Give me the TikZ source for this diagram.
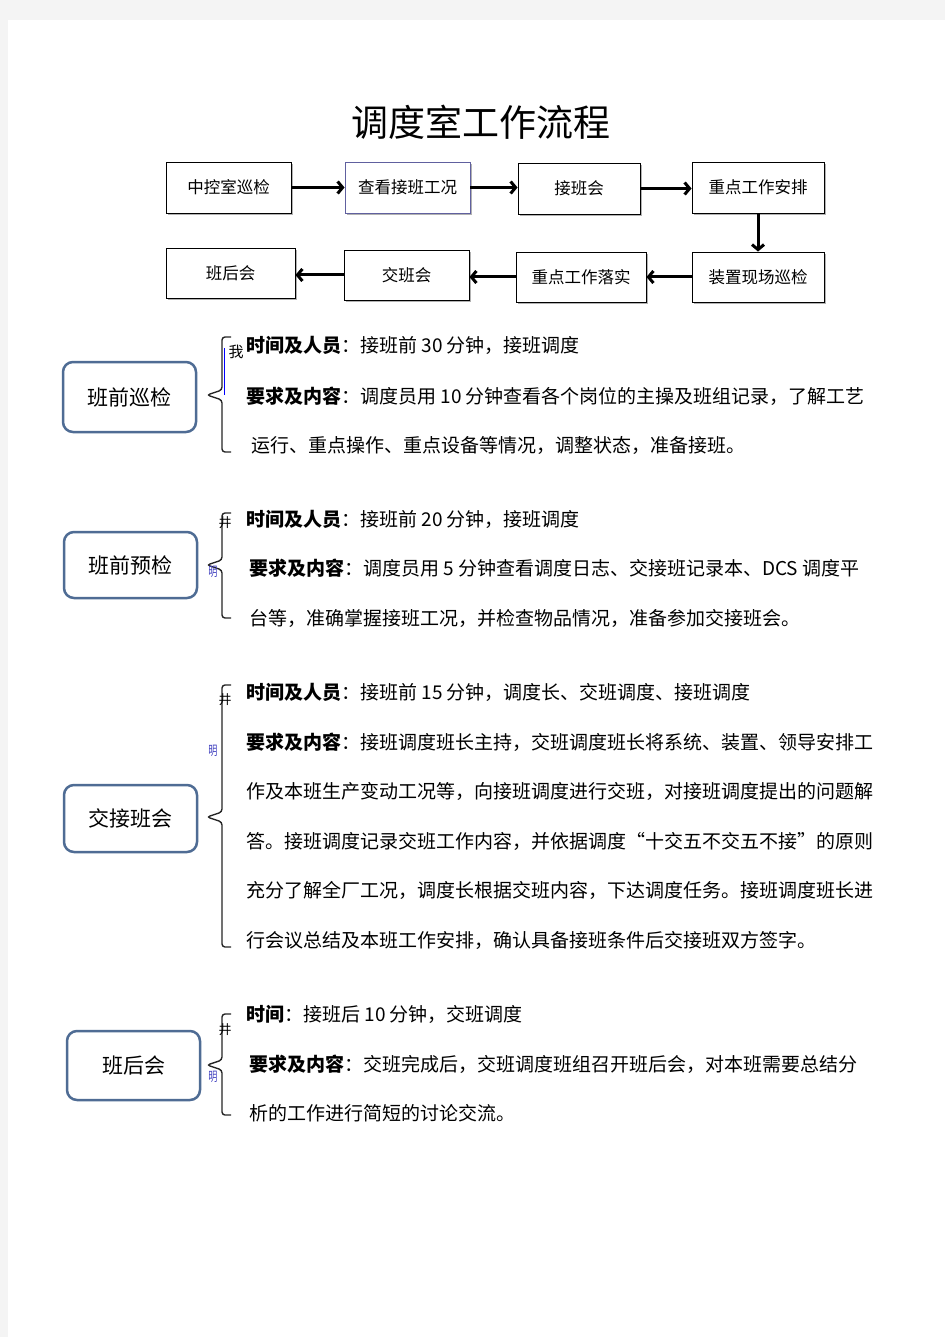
\documentclass[tikz,border=0pt]{standalone}
\usepackage{fontspec}
\setmainfont{Noto Sans CJK SC}
\usepackage{xcolor}
\usetikzlibrary{arrows.meta, shadows}

\definecolor{boxblue}{HTML}{4F6C94}
\definecolor{pagegray}{HTML}{F4F4F4}

\tikzset{
  flowbox/.style={draw, fill=white, line width=0.9pt, minimum width=125, minimum height=51, inner sep=0,
    font=\fontsize{16.5}{18}\selectfont,
    drop shadow={shadow xshift=2pt, shadow yshift=-2pt, fill=black!30, opacity=1}},
  flowarrow/.style={line width=3pt, -{Straight Barb[length=5pt, width=12pt]}},
  headbox/.style={draw=boxblue, line width=2.5pt, rounded corners=10, minimum width=133, minimum height=68,
    inner sep=0, font=\fontsize{21}{24}\selectfont},
  brc/.style={line width=1.4pt, black!85, rounded corners=3},
  txt/.style={anchor=west, inner sep=0, font=\fontsize{19}{21}\selectfont},
  glitch/.style={inner sep=0, font=\fontsize{13}{14}\selectfont}
}

\begin{document}
\begin{tikzpicture}[x=1pt, y=-1pt]
    \fill[pagegray] (0,0) rectangle (945,1337);
    \fill[white] (8,20) rectangle (945,1337);
    \useasboundingbox (0,0) rectangle (945,1337);

    \node[inner sep=0, font=\fontsize{37}{40}\selectfont] (title) at (481,122) {调度室工作流程};

    % flow chart
    \node[flowbox] (b1) at (228.5,187.5) {中控室巡检};
    \node[flowbox, draw=blue!25!gray] (b2) at (407.5,187.5) {查看接班工况};
    \node[flowbox, minimum width=122] (b3) at (579,188.5) {接班会};
    \node[flowbox, minimum width=132] (b4) at (758,187.5) {重点工作安排};
    \node[flowbox, minimum width=132, minimum height=50] (b5) at (758,277) {装置现场巡检};
    \node[flowbox, minimum width=130, minimum height=50] (b6) at (581,277) {重点工作落实};
    \node[flowbox, minimum height=50] (b7) at (406.5,275) {交班会};
    \node[flowbox, minimum width=129, minimum height=50] (b8) at (230.5,273) {班后会};

    \draw[flowarrow] (b1.east) -- (b1.east -| b2.west);
    \draw[flowarrow] (b2.east) -- (b2.east -| b3.west);
    \draw[flowarrow] (b3.east) -- (b3.east -| b4.west);
    \draw[flowarrow] (b4.south) -- (b5.north);
    \draw[flowarrow] (b5.west) -- (b5.west -| b6.east);
    \draw[flowarrow] (b6.west) -- (b6.west -| b7.east);
    \draw[flowarrow] (b7.west) -- (b7.west -| b8.east);

    % sections
    \node[headbox, minimum height=70] (h1) at (129.5,397) {班前巡检};
    \node[headbox, minimum height=66] (h2) at (130.5,565) {班前预检};
    \node[headbox, minimum height=67] (h3) at (130.5,818.5) {交接班会};
    \node[headbox, minimum height=69] (h4) at (133.5,1065.5) {班后会};

    \foreach \t/\m/\b in {337/395/452, 513/565/618, 685/817/947, 1014/1065/1115}
      \draw[brc] (231,\t) -- (222,\t) -- (222,\m-5) -- (207,\m) -- (222,\m+5) -- (222,\b) -- (231,\b);

    \draw[blue, line width=1pt] (224,348) -- (224,395);
    \node[glitch, font=\fontsize{15}{16}\selectfont] (g1) at (236,352) {我};
    \foreach \y/\z in {523/572, 700/751, 1030/1077} {
      \node[glitch] at (225,\y) {井};
      \node[glitch, blue!50!gray, xscale=0.7] at (213,\z) {明};
    }

    \node[txt] (s1a) at (246,345) {\textbf{时间及人员}：接班前 30 分钟，接班调度};
    \node[txt] (s1b) at (246,396) {\textbf{要求及内容}：调度员用 10 分钟查看各个岗位的主操及班组记录，了解工艺};
    \node[txt] (s1c) at (251,445) {运行、重点操作、重点设备等情况，调整状态，准备接班。};

    \node[txt] (s2a) at (246,519) {\textbf{时间及人员}：接班前 20 分钟，接班调度};
    \node[txt] (s2b) at (249,568) {\textbf{要求及内容}：调度员用 5 分钟查看调度日志、交接班记录本、DCS 调度平};
    \node[txt] (s2c) at (249,618) {台等，准确掌握接班工况，并检查物品情况，准备参加交接班会。};

    \node[txt] (s3a) at (246,692) {\textbf{时间及人员}：接班前 15 分钟，调度长、交班调度、接班调度};
    \node[txt] (s3b) at (246,742) {\textbf{要求及内容}：接班调度班长主持，交班调度班长将系统、装置、领导安排工};
    \node[txt] (s3c) at (246,791) {作及本班生产变动工况等，向接班调度进行交班，对接班调度提出的问题解};
    \node[txt] (s3d) at (246,841) {答。接班调度记录交班工作内容，并依据调度“十交五不交五不接”的原则};
    \node[txt] (s3e) at (246,890) {充分了解全厂工况，调度长根据交班内容，下达调度任务。接班调度班长进};
    \node[txt] (s3f) at (246,940) {行会议总结及本班工作安排，确认具备接班条件后交接班双方签字。};

    \node[txt] (s4a) at (246,1014) {\textbf{时间}：接班后 10 分钟，交班调度};
    \node[txt] (s4b) at (249,1064) {\textbf{要求及内容}：交班完成后，交班调度班组召开班后会，对本班需要总结分};
    \node[txt] (s4c) at (249,1113) {析的工作进行简短的讨论交流。};
\end{tikzpicture}
\end{document}
